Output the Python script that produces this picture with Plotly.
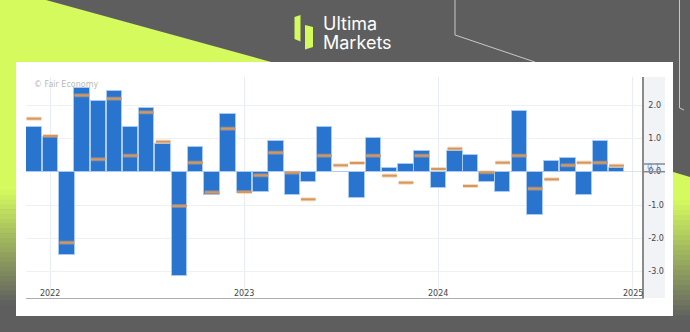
import plotly.graph_objects as go

# ---------------- data ----------------
months = [
    "2021-12-01",
    "2022-01-01", "2022-02-01", "2022-03-01", "2022-04-01", "2022-05-01", "2022-06-01",
    "2022-07-01", "2022-08-01", "2022-09-01", "2022-10-01", "2022-11-01", "2022-12-01",
    "2023-01-01", "2023-02-01", "2023-03-01", "2023-04-01", "2023-05-01", "2023-06-01",
    "2023-07-01", "2023-08-01", "2023-09-01", "2023-10-01", "2023-11-01", "2023-12-01",
    "2024-01-01", "2024-02-01", "2024-03-01", "2024-04-01", "2024-05-01", "2024-06-01",
    "2024-07-01", "2024-08-01", "2024-09-01", "2024-10-01", "2024-11-01", "2024-12-01",
]
actual = [
    1.33,
    1.03, -2.50, 2.52, 2.12, 2.43, 1.33, 1.92, 0.83, -3.12, 0.73, -0.70, 1.73,
    -0.65, -0.60, 0.93, -0.70, -0.31, 1.33, 0.00, -0.80, 1.01, 0.12, 0.22, 0.61,
    -0.50, 0.61, 0.51, -0.32, -0.60, 1.82, -1.30, 0.31, 0.41, -0.70, 0.92, 0.12,
]
forecast = [
    1.59,
    1.07, -2.13, 2.29, 0.37, 2.19, 0.48, 1.78, 0.90, -1.03, 0.27, -0.62, 1.29,
    -0.61, -0.11, 0.57, -0.03, -0.83, 0.48, 0.19, 0.26, 0.48, -0.12, -0.33, 0.48,
    0.08, 0.69, -0.43, -0.02, 0.27, 0.48, -0.51, -0.23, 0.19, 0.27, 0.27, 0.18,
]
year_ticks = ["2022-01-01", "2023-01-01", "2024-01-01", "2025-01-01"]
year_labels = ["2022", "2023", "2024", "2025"]
y_ticks = [-3, -2, -1, 0, 1, 2]
y_labels = ["-3.0", "-2.0", "-1.0", "0.0", "1.0", "2.0"]
last_label = "0.1"

W, H = 690, 332
LIME = "#d4fa5e"
GRAY = "#5e5e5e"
FONT = "DejaVu Sans"


def px(x):
    return x / W


def py(y):
    return 1 - y / H


def path(points):
    s = "M " + " L ".join(f"{px(x):.5f},{py(y):.5f}" for x, y in points) + " Z"
    return s


def mix(c1, c2, t):
    a = [int(c1[i:i + 2], 16) for i in (1, 3, 5)]
    b = [int(c2[i:i + 2], 16) for i in (1, 3, 5)]
    return "rgb(%d,%d,%d)" % tuple(round(a[k] + (b[k] - a[k]) * t) for k in range(3))


shapes = []
# lime triangle top-left
shapes.append(dict(type="path", xref="paper", yref="paper", layer="below",
                   path=path([(0, 0), (46, 0), (271, 62), (271, 190), (0, 190)]),
                   fillcolor=LIME, line=dict(width=0)))
# left gradient strip
n = 24
for i in range(n):
    y0 = 190 + i * 115 / n
    y1 = 190 + (i + 1) * 115 / n + 0.6
    shapes.append(dict(type="rect", xref="paper", yref="paper", layer="below",
                       x0=px(0), x1=px(20), y0=py(y1), y1=py(y0),
                       fillcolor=mix(LIME, GRAY, (i + 0.5) / n), line=dict(width=0)))
# right lime piece + gradient
shapes.append(dict(type="path", xref="paper", yref="paper", layer="below",
                   path=path([(670, 171), (690, 177), (690, 200), (670, 200)]),
                   fillcolor=LIME, line=dict(width=0)))
for i in range(n):
    y0 = 200 + i * 120 / n
    y1 = 200 + (i + 1) * 120 / n + 0.6
    shapes.append(dict(type="rect", xref="paper", yref="paper", layer="below",
                       x0=px(670), x1=px(690), y0=py(y1), y1=py(y0),
                       fillcolor=mix(LIME, GRAY, (i + 0.5) / n), line=dict(width=0)))
# decorative thin lines
shapes.append(dict(type="path", xref="paper", yref="paper", layer="below",
                   path=f"M {px(455):.5f},{py(0):.5f} L {px(455):.5f},{py(35):.5f} L {px(535):.5f},{py(62):.5f}",
                   fillcolor="rgba(0,0,0,0)", line=dict(color="#c9c9c9", width=1)))
shapes.append(dict(type="path", xref="paper", yref="paper", layer="below",
                   path=f"M {px(679.5):.5f},{py(0):.5f} L {px(679.5):.5f},{py(108):.5f} L {px(684):.5f},{py(110):.5f}",
                   fillcolor="rgba(0,0,0,0)", line=dict(color="#c9c9c9", width=1)))
# white panel
shapes.append(dict(type="rect", xref="paper", yref="paper", layer="below",
                   x0=px(16), x1=px(673), y0=py(316), y1=py(62),
                   fillcolor="#ffffff", line=dict(width=0)))
# axis label panel
shapes.append(dict(type="rect", xref="paper", yref="paper", layer="below",
                   x0=px(642), x1=px(665), y0=py(298), y1=py(77),
                   fillcolor="#f2f3f7", line=dict(width=0)))
# logo pieces
shapes.append(dict(type="path", xref="paper", yref="paper", layer="below",
                   path=path([(294.5, 17), (300.5, 15), (300.5, 41.5), (294.5, 39)]),
                   fillcolor=LIME, line=dict(width=0)))
shapes.append(dict(type="path", xref="paper", yref="paper", layer="below",
                   path=path([(305, 25), (313, 27), (313, 47), (305, 49.5)]),
                   fillcolor=LIME, line=dict(width=0)))
# last value marker lines on the axis panel
shapes.append(dict(type="line", xref="paper", yref="paper", layer="above",
                   x0=px(642), x1=px(665), y0=py(164), y1=py(164),
                   line=dict(color="#8a8a8a", width=1.5)))
shapes.append(dict(type="line", xref="paper", yref="paper", layer="above",
                   x0=px(642), x1=px(665), y0=py(171.7), y1=py(171.7),
                   line=dict(color="#8a8a8a", width=1.5)))

annotations = [
    dict(text="Ultima", x=px(321), y=py(23.5), xref="paper", yref="paper",
         xanchor="left", yanchor="middle", showarrow=False,
         font=dict(family="Inter", size=18, color="#ffffff")),
    dict(text="Markets", x=px(321), y=py(42.5), xref="paper", yref="paper",
         xanchor="left", yanchor="middle", showarrow=False,
         font=dict(family="Inter", size=18, color="#ffffff")),
    dict(text="© Fair Economy", x=px(32), y=py(84), xref="paper", yref="paper",
         xanchor="left", yanchor="middle", showarrow=False,
         font=dict(family=FONT, size=8, color="#b9b9b9")),
    dict(text=last_label, x=px(645), y=py(167.5), xref="paper", yref="paper",
         xanchor="left", yanchor="middle", showarrow=False,
         font=dict(family=FONT, size=8, color="#5e9be6")),
]
for tv, tl in zip(year_ticks, year_labels):
    annotations.append(dict(text=tl, x=tv, xref="x", y=py(293), yref="paper",
                            xanchor="center", yanchor="middle", showarrow=False,
                            font=dict(family=FONT, size=8, color="#444444")))

fig = go.Figure()
fig.add_trace(go.Bar(
    x=months, y=actual, width=29 * 86400000,
    marker=dict(color="#2874cf", line=dict(color="#a9cbf2", width=1)),
    showlegend=False, hoverinfo="skip"))
fig.add_trace(go.Scatter(
    x=months, y=forecast, mode="markers",
    marker=dict(symbol="line-ew", size=10.5, line=dict(color="rgba(226,170,115,0.45)", width=4)),
    showlegend=False, hoverinfo="skip"))
fig.add_trace(go.Scatter(
    x=months, y=forecast, mode="markers",
    marker=dict(symbol="line-ew", size=10.5, line=dict(color="#d8975a", width=2)),
    showlegend=False, hoverinfo="skip"))

fig.update_layout(
    width=W, height=H, autosize=False,
    margin=dict(l=0, r=0, t=0, b=0),
    paper_bgcolor=GRAY, plot_bgcolor="rgba(0,0,0,0)",
    font=dict(family=FONT, size=8, color="#444444"),
    bargap=0, shapes=shapes, annotations=annotations,
    xaxis=dict(
        type="date", domain=[px(26), px(642)], range=["2021-11-16", "2025-01-18"],
        tickvals=year_ticks, ticktext=year_labels, showticklabels=False,
        showgrid=True, gridcolor="#e8ecf5", gridwidth=1,
        showline=True, linecolor="#adadad", linewidth=1, ticks="",
        fixedrange=True,
    ),
    yaxis=dict(
        domain=[py(298), py(77)], range=[-3.79, 2.84], side="right",
        tickvals=y_ticks, ticktext=y_labels,
        showgrid=True, gridcolor="#eef0f4", gridwidth=1,
        zeroline=True, zerolinecolor="#e2e2e2", zerolinewidth=1,
        showline=True, linecolor="#8a8a8a", linewidth=1.5, ticks="",
        ticklabelstandoff=3,
        tickfont=dict(family=FONT, size=8, color="#444444"), fixedrange=True,
    ),
)

fig.write_html("out.html")
